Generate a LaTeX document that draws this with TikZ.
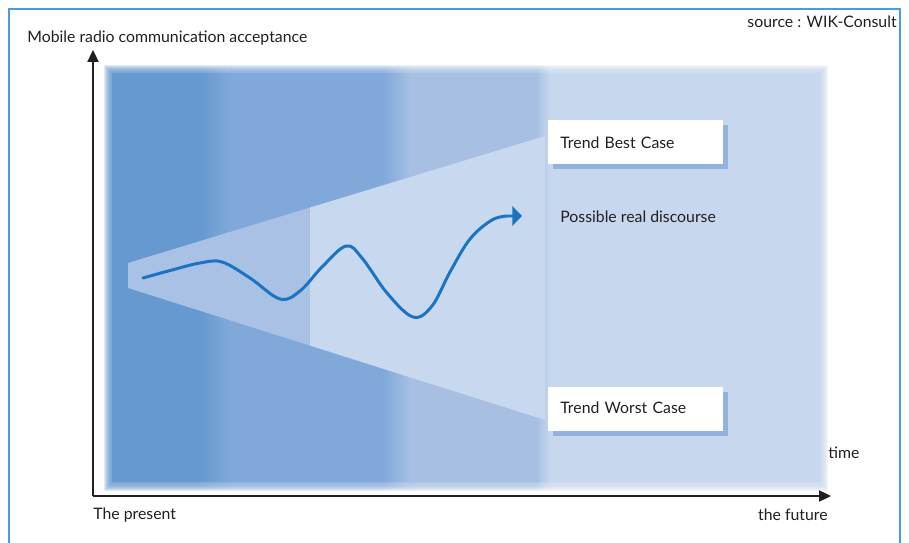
\documentclass[tikz,border=0pt]{standalone}
\usepackage{fontspec}
\setmainfont{Lato}
\usetikzlibrary{arrows.meta,shadows}

\definecolor{frameblue}{HTML}{4C9BE0}
\definecolor{bandA}{HTML}{6699CF}
\definecolor{bandB}{HTML}{80A9DA}
\definecolor{bandC}{HTML}{A6BFE2}
\definecolor{bandD}{HTML}{C7D7EE}
\definecolor{coneA}{HTML}{A9C1E4}
\definecolor{coneB}{HTML}{C8D8EF}
\definecolor{shadowblue}{HTML}{93B3DE}
\definecolor{wave}{HTML}{1B74C2}
\definecolor{ink}{HTML}{231F20}

% the four vertical bands of the backdrop, with soft steps between them
\newcommand\panelbands[1]{%
  \fill[bandA,opacity=#1] (100,60) rectangle (200,495);
  \shade[left color=bandA,right color=bandB,opacity=#1] (200,60) rectangle (230,495);
  \fill[bandB,opacity=#1] (230,60) rectangle (383,495);
  \shade[left color=bandB,right color=bandC,opacity=#1] (383,60) rectangle (410,495);
  \fill[bandC,opacity=#1] (410,60) rectangle (536,495);
  \shade[left color=bandC,right color=bandD,opacity=#1] (536,60) rectangle (550,495);
  \fill[bandD,opacity=#1] (550,60) rectangle (830,495);
}

\tikzset{
  axistext/.style={text=ink,font=\fontsize{9pt}{11pt}\selectfont,inner sep=0pt},
  casetext/.style={text=ink,font=\fontsize{9pt}{11pt}\selectfont,inner sep=0pt},
  casebox/.style={fill=white,text=ink,font=\fontsize{9pt}{11pt}\selectfont,
    anchor=north west,minimum width=3.5cm,minimum height=0.88cm,inner ysep=0pt,
    inner xsep=0.24cm,text width=3.02cm,align=left,
    drop shadow={shadow xshift=0.1cm,shadow yshift=-0.1cm,fill=shadowblue,opacity=1}},
  axis/.style={ink,line width=0.7pt,-{Triangle[length=6.8pt,width=6.4pt]}},
  wavy/.style={wave,line width=1.7pt,line cap=round,line join=round,
    -{Triangle[length=5.5pt,width=11pt]}}
}

\begin{document}
\begin{tikzpicture}[x=0.02cm,y=-0.02cm]
\useasboundingbox (0,0) rectangle (909,543);
\fill[white] (0,0) rectangle (909,543);
\draw[frameblue,line width=1.1pt] (9,545) -- (9,9) -- (900,9) -- (900,545);

% backdrop with blurred rim
\foreach \d in {-4,...,3}{
  \begin{scope}
    \clip (108+\d,70+\d) rectangle (824-\d,486-\d);
    \panelbands{0.2}
  \end{scope}
}
\begin{scope}
  \clip (112,74) rectangle (820,482);
  \panelbands{1}
\end{scope}

% corridor between best and worst case
\begin{scope}
  \clip (128,263) -- (545,136) -- (545,420) -- (128,288) -- cycle;
  \fill[coneA] (120,120) rectangle (310,430);
  \fill[coneB] (310,120) rectangle (550,430);
\end{scope}

% possible course
\draw[wavy] plot[smooth,tension=0.6] coordinates {(143,278) (172,270) (200,263) (222,262)
  (250,278) (280,299) (300,291) (322,267) (346,246) (362,258) (387,293) (413,317)
  (432,306) (450,272) (470,239) (492,220) (508,216)} -- (522,216);

% axes
\coordinate (origin) at (93,496);
\coordinate (ytip) at (93,50);
\coordinate (xtip) at (831,496);
\draw[axis] (origin) -- (ytip);
\draw[axis] (origin) -- (xtip);

\node[axistext,anchor=west] (yname) at (27,38) {Mobile radio communication acceptance};
\node[axistext,anchor=east] (source) at (897,22) {source : WIK-Consult};
\node[axistext,anchor=west] (present) at (93,515) {The present};
\node[axistext,anchor=east] (future) at (828,515) {the future};
\node[axistext,anchor=west] (timename) at (828,453) {time};

\node[casebox] (best) at (548,120) {Trend Best Case};
\node[casebox] (worst) at (548,387) {Trend Worst Case\vphantom{y}};
\node[casetext,anchor=west] (course) at (560,217) {Possible real discourse};
\end{tikzpicture}
\end{document}
